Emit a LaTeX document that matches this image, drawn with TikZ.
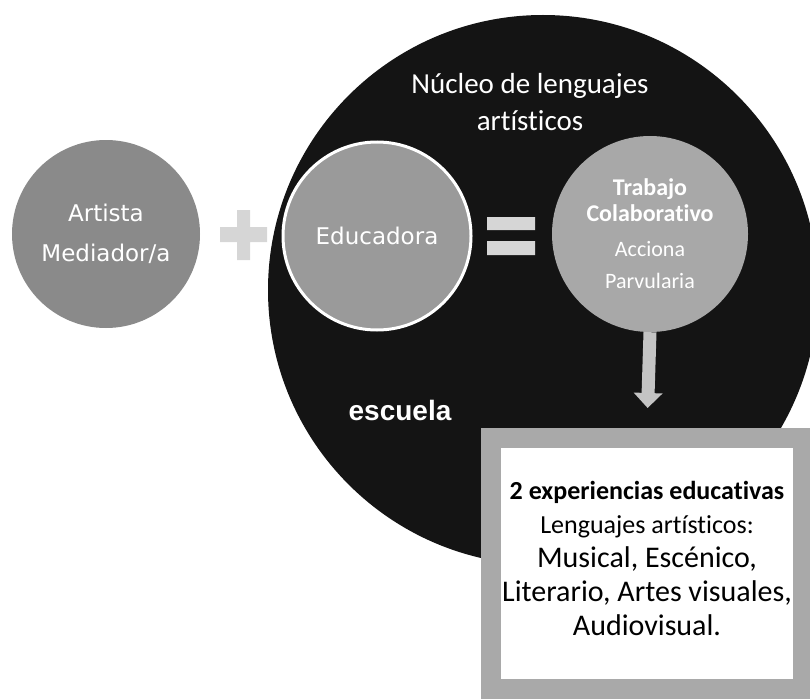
\documentclass[tikz,border=0pt]{standalone}
\usepackage{fontspec}
\setmainfont{Carlito}[Ligatures=CommonOff]
\newfontfamily\verdfont{DejaVu Sans}
\newfontfamily\arialfont{Liberation Sans}
\usetikzlibrary{arrows.meta}

\tikzset{
  circ/.style={circle, inner sep=0pt, text=white, align=center},
  signbar/.style={fill=signcol}
}

\begin{document}
\begin{tikzpicture}[x=1pt, y=-1pt]
\definecolor{nucleocol}{HTML}{141414}
\definecolor{artcol}{HTML}{8A8A8A}
\definecolor{educol}{HTML}{9A9A9A}
\definecolor{trabcol}{HTML}{A8A8A8}
\definecolor{signcol}{HTML}{D6D6D6}
\definecolor{arrowcol}{HTML}{C4C4C4}
\definecolor{framecol}{HTML}{A9A9A9}
\useasboundingbox (0,0) rectangle (810,698);
\clip (0,0) rectangle (810,698);
% big circle
\node[circ, fill=nucleocol, minimum size=550pt] (escuela) at (543,290) {};
\node[text=white, align=center, font=\fontsize{29}{37}\selectfont] (nucleo) at (530,102) {Núcleo de lenguajes\\artísticos};
\node[text=white, font=\arialfont\bfseries\fontsize{28}{34}\selectfont] (escuelalbl) at (400,410) {escuela};
% left circles
\node[circ, fill=artcol, minimum size=188pt, font=\verdfont\fontsize{23}{40}\selectfont] (artista) at (106,234) {Artista\\Mediador/a};
\fill[signbar] (237,210) rectangle (250,260) (220,227) rectangle (267,242);
\node[circ, fill=educol, draw=white, line width=3pt, minimum size=188pt, font=\verdfont\fontsize{23}{30}\selectfont] (educadora) at (377,236) {Educadora};
\fill[signbar] (487,217) rectangle (535,230) (487,241) rectangle (535,255);
\node[circ, fill=trabcol, minimum size=196pt, font=\fontsize{22}{26}\selectfont] (trabajo) at (650,234)
  {\fontsize{24}{26}\selectfont\bfseries Trabajo\\\fontsize{24}{26}\selectfont\bfseries Colaborativo\\[9pt]Acciona\\[6pt]Parvularia};
% result box
\node[draw=framecol, line width=20pt, fill=white, minimum width=312pt, minimum height=251pt, align=center, text=black, font=\fontsize{30}{34}\selectfont] (experiencias) at (647,563.5)
  {\fontsize{26}{33}\selectfont\bfseries 2 experiencias educativas\\
   \fontsize{26}{33}\selectfont Lenguajes artísticos:\\
   Musical, Escénico,\\
   Literario, Artes visuales,\\
   Audiovisual.\rule[-10pt]{0pt}{0pt}};
\draw[arrowcol, line width=13pt, -{Triangle[width=28pt, length=15pt]}, shorten >=20pt] (trabajo.south) -- (experiencias.north);
\end{tikzpicture}
\end{document}
